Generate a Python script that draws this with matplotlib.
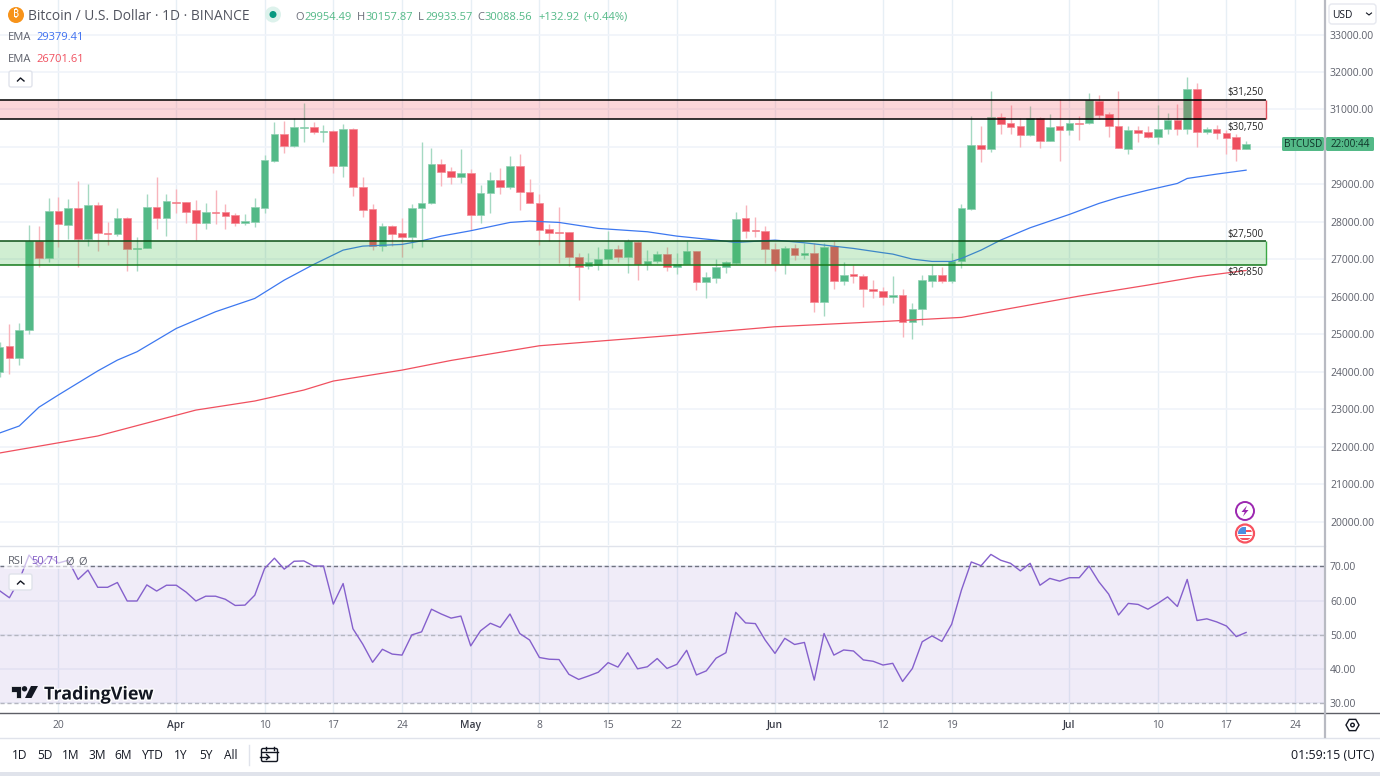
import matplotlib
matplotlib.use("Agg")
import matplotlib.pyplot as plt
from matplotlib.patches import Circle, FancyBboxPatch, Polygon, Rectangle, RegularPolygon
import matplotlib.patheffects as pe

plt.rcParams['font.family'] = ['Open Sans', 'DejaVu Sans']

# candles, first one is 14 Mar (day -6), day 0 is 20 Mar
first_day = -6
opens = [23998, 24683, 24354, 25110, 27494, 27040, 28286, 27921, 28357, 27539, 28446, 27700, 27672, 28091, 27281, 27299,
         28393, 28108, 28526, 28526, 28304, 27966, 28260, 28260, 28170, 27975, 27993, 28375, 29621, 30333, 30021, 30510,
         30537, 30395, 30421, 29496, 30484, 28918, 28331, 27352, 27886, 27690, 27592, 28375, 28491, 29541, 29354, 29185,
         29310, 28171, 28776, 29105, 28918, 29488, 28793, 28509, 27806, 27726, 27726, 27068, 26827, 26845, 27005, 27263,
         27068, 27459, 26863, 26943, 27148, 26801, 26881, 27219, 26391, 26507, 26783, 26907, 28091, 27779, 27762, 27281,
         26872, 27299, 27121, 27166, 25867, 27352, 26409, 26605, 26543, 26205, 26151, 26000, 26054, 25333, 25662, 26427,
         26587, 26418, 26943, 28340, 30057, 29933, 30787, 30627, 30547, 30315, 30760, 30155, 30547, 30458, 30644, 30627,
         31214, 30867, 30555, 29950, 30449, 30395, 30271, 30466, 30715, 30475, 31543, 30396, 30466, 30369, 30253, 29954.49]
highs = [24800, 25270, 25306, 27913, 27886, 28624, 28669, 28597, 29087, 29007, 28526, 27984, 28357, 28117, 27583, 28740,
         29203, 28740, 28873, 28530, 28580, 28509, 28847, 28473, 28224, 28206, 28624, 29781, 30671, 30697, 30760, 31160,
         30671, 30582, 30448, 30608, 30493, 29203, 28473, 27975, 27904, 28099, 28473, 30119, 29959, 29665, 29452, 29932,
         29399, 28972, 29327, 29434, 29755, 29808, 29141, 28731, 27940, 28402, 27726, 27174, 27174, 27317, 27762, 27379,
         27548, 27477, 27246, 27210, 27317, 27157, 27477, 27219, 26658, 26996, 26952, 28260, 28438, 28117, 27895, 27423,
         27352, 27405, 27441, 27423, 27423, 27495, 26916, 26836, 26605, 26445, 26267, 26552, 26196, 25840, 26578, 26845,
         26801, 27175, 28473, 30822, 30555, 31498, 30893, 31116, 30760, 31089, 30805, 30876, 31267, 30733, 30822, 31427,
         31383, 30938, 31498, 30555, 30555, 30555, 31116, 30893, 31143, 31855, 31694, 30538, 30591, 30449, 30342, 30157.87]
lows = [23850, 23936, 24176, 25003, 26800, 26934, 27334, 27530, 26800, 27352, 27227, 27379, 27619, 26694, 26694, 27290,
        27806, 27619, 28224, 27975, 27512, 27797, 27939, 27815, 27886, 27913, 27850, 28224, 29603, 29843, 30003, 30137,
        30342, 30137, 29309, 29203, 28695, 28135, 27245, 27227, 27352, 27067, 27290, 27334, 28473, 28953, 29007, 29043,
        27779, 27957, 28242, 28740, 28865, 28313, 28490, 27379, 27495, 26907, 26818, 25911, 26730, 26712, 26845, 26934,
        26641, 26445, 26712, 26890, 26694, 26605, 26863, 26178, 25964, 26374, 26641, 26872, 27557, 27601, 26890, 26694,
        26596, 26979, 26996, 25582, 25493, 26196, 26320, 26374, 25733, 25973, 25769, 25840, 24933, 24861, 25244, 26267,
        26374, 26356, 26756, 28322, 29603, 29870, 30342, 30342, 30004, 30288, 29968, 30155, 29630, 30315, 30182, 30609,
        30733, 30271, 29960, 29808, 30128, 30235, 30075, 30342, 30324, 30342, 30004, 30342, 30217, 29808, 29621, 29933.57]
closes = [24665, 24354, 25110, 27494, 27040, 28286, 27939, 28357, 27539, 28446, 27690, 27672, 28099, 27281, 27299, 28393,
          28108, 28553, 28509, 28260, 27966, 28260, 28242, 28153, 27975, 28019, 28393, 29647, 30333, 30021, 30528, 30537,
          30395, 30421, 29496, 30484, 28918, 28322, 27352, 27886, 27672, 27592, 28375, 28509, 29541, 29336, 29185, 29292,
          28171, 28776, 29105, 28918, 29488, 28785, 28500, 27788, 27708, 27708, 27068, 26801, 26925, 27005, 27263, 27068,
          27477, 26863, 26943, 27139, 26801, 26881, 27219, 26391, 26516, 26801, 26916, 28073, 27762, 27752, 27272, 26872,
          27299, 27121, 27166, 25867, 27334, 26409, 26587, 26543, 26196, 26160, 26000, 26053, 25333, 25671, 26445, 26587,
          26418, 26943, 28367, 30057, 29933, 30787, 30609, 30538, 30324, 30760, 30155, 30520, 30458, 30636, 30618, 31249,
          30849, 30547, 29968, 30449, 30378, 30271, 30466, 30715, 30466, 31543, 30404, 30466, 30378, 30235, 29933, 30088.56]

ema50_days = [-6, -4, -2, 0, 2, 4, 6, 8, 12, 16, 20, 23, 26, 29, 31, 35, 37, 39, 42, 46, 48, 51, 55, 60, 63, 67, 69, 73,
              76, 78, 81, 84, 85, 87, 89, 91, 92, 94, 96, 99, 103, 106, 108, 111, 114, 115, 118, 121]
ema50 = [22363, 22550, 23050, 23380, 23700, 24020, 24309, 24532, 25154, 25600, 25955, 26444, 26863, 27245, 27352, 27397,
         27494, 27619, 27762, 27984, 28020, 27984, 27824, 27735, 27619, 27512, 27450, 27512, 27441, 27380, 27290, 27175,
         27139, 27005, 26943, 26943, 27023, 27246, 27513, 27842, 28198, 28491, 28651, 28847, 29025, 29158, 29274, 29379.41]
ema200_days = [-6, 4, 14, 20, 25, 28, 35, 40, 49, 63, 73, 84, 92, 97, 104, 111, 116, 121]
ema200 = [21829, 22283, 22975, 23217, 23510, 23750, 24042, 24300, 24692, 24977, 25199, 25340, 25449, 25689, 26018, 26312,
          26534, 26701.61]

rsi = [62.9, 60.85, 66, 73.3, 69.9, 73, 71, 71.8, 66.2, 68.9, 63.9, 63.9, 65.3, 59.9, 59.9, 64.6, 62.8, 64.5, 64.5, 62.5,
       59.9, 61.3, 61.3, 60.4, 58.6, 58.7, 61.6, 69.4, 72.4, 69.2, 71.5, 71.6, 70.1, 70.1, 59, 65, 51.8, 47.3, 42, 45.8,
       44.4, 44.1, 50, 50.9, 57.5, 56.1, 54.9, 55.5, 46.8, 51.2, 53.4, 52.2, 56.1, 50.4, 48.5, 43.4, 42.9, 42.8, 38.5, 37,
       38, 39.1, 41.9, 40.6, 44.8, 40.1, 40.7, 43.1, 40.2, 41.4, 45.5, 38.3, 39.5, 43.2, 44.8, 56.6, 53.5, 53.3, 48.5, 44.6,
       49, 47.2, 47.8, 36.8, 50.4, 44.1, 45.6, 45.3, 42.7, 42.3, 41.2, 41.7, 36.4, 40.2, 48, 49.7, 48.1, 53.1, 63.1, 71.3,
       70.2, 73.5, 71.8, 70.9, 68.7, 70.9, 64.5, 66.5, 65.7, 66.7, 66.7, 70.1, 65.5, 61.9, 55.8, 59.2, 58.9, 57.5, 59.2, 61.1,
       58.3, 66.2, 54.2, 54.7, 53.8, 52.6, 49.5, 50.71]

tick_days = [0, 12, 21, 28, 35, 42, 49, 56, 63, 73, 84, 91, 103, 112, 119, 126]
tick_labels = ['20', 'Apr', '10', '17', '24', 'May', '8', '15', '22', 'Jun', '12', '19', 'Jul', '10', '17', '24']
price_ticks = [33000, 32000, 31000, 30000, 29000, 28000, 27000, 26000, 25000, 24000, 23000, 22000, 21000, 20000]
# 30000 sits under the BTCUSD tag in the picture
price_labels = ['33000.00', '32000.00', '31000.00', '', '29000.00', '28000.00', '27000.00', '26000.00', '25000.00',
                '24000.00', '23000.00', '22000.00', '21000.00', '20000.00']
rsi_ticks = [70, 60, 50, 40, 30]
zone_labels = ['$31,250', '$30,750', '$27,500', '$26,850']
range_buttons = ['1D', '5D', '1M', '3M', '6M', 'YTD', '1Y', '5Y', 'All']

UP = '#53b987'
DOWN = '#ee4f5f'
GRID_H = '#f0f3fa'
GRID_V = '#e7eff5'
AXIS_TXT = '#5d606b'
W, H = 1380, 776
RIGHT = 1325

days = [first_day + i for i in range(len(opens))]

fig = plt.figure(figsize=(13.8, 7.76), dpi=100, facecolor='white')
ax = fig.add_axes([0, 1 - 545 / H, RIGHT / W, 545 / H])
ax2 = fig.add_axes([0, 1 - 712.5 / H, RIGHT / W, 166.5 / H])

for a in (ax, ax2):
    a.set_xlim(-5.96, 129.04)
    a.set_xticks(tick_days)
    for s in a.spines.values():
        s.set_visible(False)
    a.yaxis.tick_right()
    a.set_axisbelow(True)
    a.grid(True, axis='x', color=GRID_V, lw=1)
    a.grid(True, axis='y', color=GRID_H, lw=1.2)
    a.tick_params(length=0)

# main pane
ax.set_ylim(19373, 33922)
ax.set_yticks(price_ticks)
ax.set_yticklabels(price_labels, fontsize=7.5, color=AXIS_TXT)
ax.tick_params(axis='y', pad=3.6)
ax.tick_params(axis='x', labelbottom=False)

wick_colors = ['#a5d9c2' if c >= o else '#f8b4bc' for o, c in zip(opens, closes)]
body_colors = [UP if c >= o else DOWN for o, c in zip(opens, closes)]
edge_colors = ['#8fd0b2' if c >= o else '#f48a95' for o, c in zip(opens, closes)]
ax.vlines(days, lows, highs, colors=wick_colors, lw=1, zorder=3)
ax.bar(days, [max(abs(c - o), 25) for o, c in zip(opens, closes)], bottom=[min(o, c) for o, c in zip(opens, closes)],
       width=0.78, color=body_colors, edgecolor=edge_colors, lw=0.5, zorder=4)

ax.plot(ema50_days, ema50, color='#3d78f0', lw=0.9, zorder=5)
ax.plot(ema200_days, ema200, color='#f0505f', lw=0.9, zorder=5)

# zones
zone_end = 123
ax.add_patch(Rectangle((-8, 30750), zone_end + 8, 500, fc='#f23645', alpha=0.2, ec='none', zorder=6))
ax.add_patch(Rectangle((-8, 26850), zone_end + 8, 650, fc='#3cb846', alpha=0.24, ec='none', zorder=6))
ax.hlines([31250, 30750], -8, zone_end, colors='#000000', lw=1.1, zorder=7)
ax.vlines(zone_end, 30750, 31250, colors='#e0505c', lw=1, zorder=7)
ax.hlines(27500, -8, zone_end, colors='#0c4f16', lw=1.1, zorder=7)
ax.hlines(26850, -8, zone_end, colors='#167a1c', lw=1.1, zorder=7)
ax.vlines(zone_end, 26850, 27500, colors='#3ba845', lw=1, zorder=7)

zone_label_prices = [31440, 30530, 27675, 26650]
for lab, p in zip(zone_labels, zone_label_prices):
    ax.text(119.05, p, lab, fontsize=7, color='#222222', ha='left', va='center', zorder=8)

# rsi pane
ax2.set_ylim(27.34, 75.96)
ax2.set_yticks(rsi_ticks)
ax2.set_yticklabels(['%.2f' % r for r in rsi_ticks], fontsize=7.5, color=AXIS_TXT)
ax2.tick_params(axis='y', pad=3.6)
ax2.set_xticklabels(tick_labels, fontsize=7.4, color=AXIS_TXT)
ax2.tick_params(axis='x', pad=5.5)
for lab in ax2.get_xticklabels():
    if lab.get_text() in ('Apr', 'May', 'Jun', 'Jul'):
        lab.set_color('#3a3d48')
        lab.set_fontweight('semibold')
ax2.axhspan(30, 70, color='#7e57c2', alpha=0.11, lw=0, zorder=1)
ax2.axhline(70, color='#6f7280', lw=1, ls=(0, (3, 2)), zorder=2)
ax2.axhline(50, color='#b4b6c0', lw=1, ls=(0, (3, 2)), zorder=2)
ax2.axhline(30, color='#b4b6c0', lw=1, ls=(0, (3, 2)), zorder=2)
ax2.plot(days, rsi, color='#8560cc', lw=1, zorder=3)

# everything around the panes, in pixels
ov = fig.add_axes([0, 0, 1, 1], facecolor='none')
ov.set_xlim(0, W)
ov.set_ylim(H, 0)
ov.axis('off')

ov.plot([0, RIGHT], [545.5, 545.5], color='#e0e3eb', lw=1)
ov.plot([0, W], [712.5, 712.5], color='#5d5f66', lw=1)
ov.plot([0, W], [737.5, 737.5], color='#e0e3eb', lw=1)
ov.plot([RIGHT, RIGHT], [0, 737], color='#b8bac2', lw=1.6)
ov.add_patch(Rectangle((0, 772), W, 4, fc='#e0e3eb', ec='none'))

# header
ov.add_patch(Circle((16, 15), 8, fc='#f7931a', ec='none'))
ov.text(16, 15, '₿', fontsize=7.5, color='white', ha='center', va='center', family=['Noto Sans', 'Roboto', 'Inter', 'Lato', 'DejaVu Sans'])
ov.text(28, 16.5, 'Bitcoin / U.S. Dollar · 1D · BINANCE', fontsize=9.95, color='#50535e', va='center')
ov.add_patch(Circle((273, 14.5), 8, fc='#ddf2ec', ec='none'))
ov.add_patch(Circle((273, 14.5), 3.5, fc='#089981', ec='none'))
for x, t in [(295, 'O'), (356.5, 'H'), (417.5, 'L'), (477, 'C')]:
    ov.text(x, 17, t, fontsize=8, color='#6a6d78', va='center')
for x, t in [(304, '29954.49'), (365.5, '30157.87'), (425, '29933.57'), (485, '30088.56'), (538, '+132.92'), (583, '(+0.44%)')]:
    ov.text(x, 17, t, fontsize=8, color=UP, va='center')

ov.text(8, 37, 'EMA', fontsize=8, color='#5d606b', va='center')
ov.text(36, 37, '29379.41', fontsize=8, color='#3d6ff0', va='center')
ov.text(8, 59, 'EMA', fontsize=8, color='#5d606b', va='center')
ov.text(36, 59, '26701.61', fontsize=8, color='#f0505f', va='center')


def chevron_button(y):
    ov.add_patch(FancyBboxPatch((9, y + 1), 23, 16, boxstyle='round,pad=0,rounding_size=2', fc='white', ec='#e0e3eb', lw=1))
    ov.plot([17.5, 20.5, 24], [y + 11, y + 8, y + 11], color='#131722', lw=1)


chevron_button(70)
ov.add_patch(Rectangle((4, 553), 86, 16, fc='white', alpha=0.6, ec='none'))
chevron_button(573)
ov.text(8, 562, 'RSI', fontsize=8, color='#5d606b', va='center')
ov.text(31, 562, '50.71', fontsize=8, color='#7e57c2', va='center')
ov.text(65, 562, 'Ø', fontsize=8, color='#5d606b', va='center')
ov.text(78, 562, 'Ø', fontsize=8, color='#5d606b', va='center')

# currency box and price tags
ov.add_patch(FancyBboxPatch((1329, 4), 47, 20, boxstyle='round,pad=0,rounding_size=3', fc='white', ec='#e6e8ef', lw=1))
ov.text(1332, 15.5, 'USD', fontsize=7.4, color='#131722', va='center')
ov.plot([1366.5, 1369, 1371.5], [13, 15, 13], color='#131722', lw=0.8)
ov.add_patch(FancyBboxPatch((1282, 137), 42, 14, boxstyle='round,pad=0,rounding_size=1.5', fc=UP, ec='none'))
ov.add_patch(FancyBboxPatch((1326, 137), 48, 14, boxstyle='round,pad=0,rounding_size=1.5', fc=UP, ec='none'))
ov.text(1303, 144.5, 'BTCUSD', fontsize=7.2, color='#10352a', ha='center', va='center')
ov.text(1350, 144.5, '22:00:44', fontsize=7.2, color='#10352a', ha='center', va='center')

# event icons
ov.add_patch(Circle((1245, 511), 9, fc='white', ec='#9c27b0', lw=1.4))
ov.add_patch(Polygon([(1247, 505.5), (1241.5, 512), (1244.7, 512), (1243, 516.5), (1248.5, 510), (1245.3, 510)], fc='#9c27b0', ec='none'))
flag_clip = Circle((1245, 533.5), 7, transform=ov.transData)
ov.add_patch(Circle((1245, 533.5), 9, fc='white', ec='#f7525f', lw=1.6))
for y in (531, 535.5, 539):
    ov.add_patch(Rectangle((1237, y - 0.8), 16, 1.6, fc='#f7525f', ec='none', clip_path=flag_clip))
ov.add_patch(Rectangle((1238, 527), 8, 7, fc='#4d8fe0', ec='none', clip_path=flag_clip))

# settings gear
ov.add_patch(RegularPolygon((1352.5, 725), 6, radius=6.5, fc='none', ec='#131722', lw=1, orientation=0.5236))
ov.add_patch(Circle((1352.5, 725), 1.8, fc='none', ec='#131722', lw=1))

# TradingView mark
halo = [pe.withStroke(linewidth=2, foreground='white')]
ov.add_patch(Polygon([(11, 686), (21, 686), (21, 698), (16, 698), (16, 691.5), (11, 691.5)], fc='#131722', ec='white', lw=0.5))
ov.add_patch(Circle((24.5, 688.8), 2.7, fc='#131722', ec='none'))
ov.add_patch(Polygon([(31, 686), (38, 686), (31.5, 698), (25, 698)], fc='#131722', ec='none'))
ov.text(44, 694.5, 'TradingView', fontsize=12.9, color='#131722', va='center', fontweight='bold', path_effects=halo)

# bottom bar
button_x = [20, 45, 71, 97, 123, 153, 181, 206, 231]
for x, t in zip(button_x, range_buttons):
    ov.text(x, 755.5, t, fontsize=8.6, color='#131722', ha='center', va='center')
ov.plot([248.5, 248.5], [745, 765], color='#e0e3eb', lw=1)
ov.add_patch(FancyBboxPatch((261.5, 748.5), 16, 13, boxstyle='round,pad=0,rounding_size=1.5', fc='white', ec='#131722', lw=1))
ov.plot([261.5, 277.5], [752, 752], color='#131722', lw=1)
ov.plot([265.5, 265.5], [746.5, 750], color='#131722', lw=1)
ov.plot([273.5, 273.5], [746.5, 750], color='#131722', lw=1)
ov.plot([260, 269], [757, 757], color='#131722', lw=1)
ov.plot([266.5, 269, 266.5], [754.5, 757, 759.5], color='#131722', lw=1)
ov.text(1374, 755.5, '01:59:15 (UTC)', fontsize=8.9, color='#131722', ha='right', va='center')

fig.savefig('out.png', dpi=100, facecolor='white')
